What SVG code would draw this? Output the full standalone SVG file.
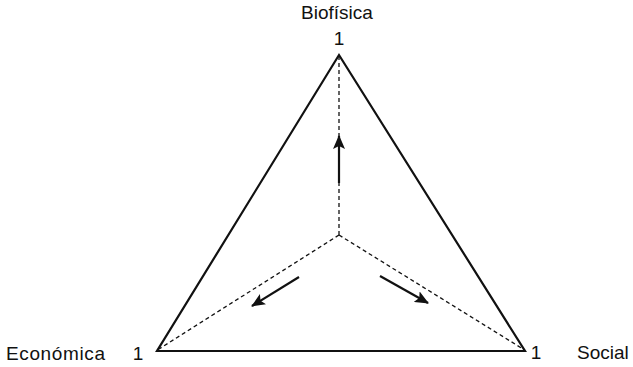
<svg xmlns="http://www.w3.org/2000/svg" width="633" height="367" viewBox="0 0 633 367">
<style>
  .lbl { font-family: "Liberation Sans", Arial, sans-serif; font-size: 19px; fill: #111; }
  .edge { fill: none; stroke: #111; stroke-width: 2.2; stroke-linejoin: miter; }
  .dash { fill: none; stroke: #111; stroke-width: 1.3; stroke-dasharray: 4 3; }
  .arr { fill: none; stroke: #111; stroke-width: 2.2; marker-end: url(#ah); }
</style>
<defs>
  <marker id="ah" viewBox="0 0 14 12" refX="13" refY="6" markerWidth="14" markerHeight="12" markerUnits="userSpaceOnUse" orient="auto">
    <path d="M0,0 L14,6 L0,12 L3,6 Z" fill="#111"/>
  </marker>
</defs>
<rect width="633" height="367" fill="#fff"/>
<g id="triangle">
  <path class="edge" d="M339,55 L525,351 L157,351 Z"/>
</g>
<g id="connectors">
  <line class="dash" x1="339" y1="235" x2="339" y2="57"/>
  <line class="dash" x1="339" y1="235" x2="159" y2="349"/>
  <line class="dash" x1="339" y1="235" x2="523" y2="349"/>
  <line class="arr" x1="339" y1="183" x2="339" y2="136"/>
  <line class="arr" x1="299" y1="277" x2="252" y2="306"/>
  <line class="arr" x1="380" y1="276" x2="428" y2="303"/>
</g>
<g id="node-biofisica">
  <text class="lbl" x="337" y="19" text-anchor="middle">Biofísica</text>
  <text class="lbl" x="339" y="45" text-anchor="middle">1</text>
</g>
<g id="node-economica">
  <text class="lbl" x="6" y="360" textLength="99" lengthAdjust="spacing">Económica</text>
  <text class="lbl" x="138" y="360" text-anchor="middle">1</text>
</g>
<g id="node-social">
  <text class="lbl" x="536" y="359" text-anchor="middle">1</text>
  <text class="lbl" x="577" y="359">Social</text>
</g>
</svg>
